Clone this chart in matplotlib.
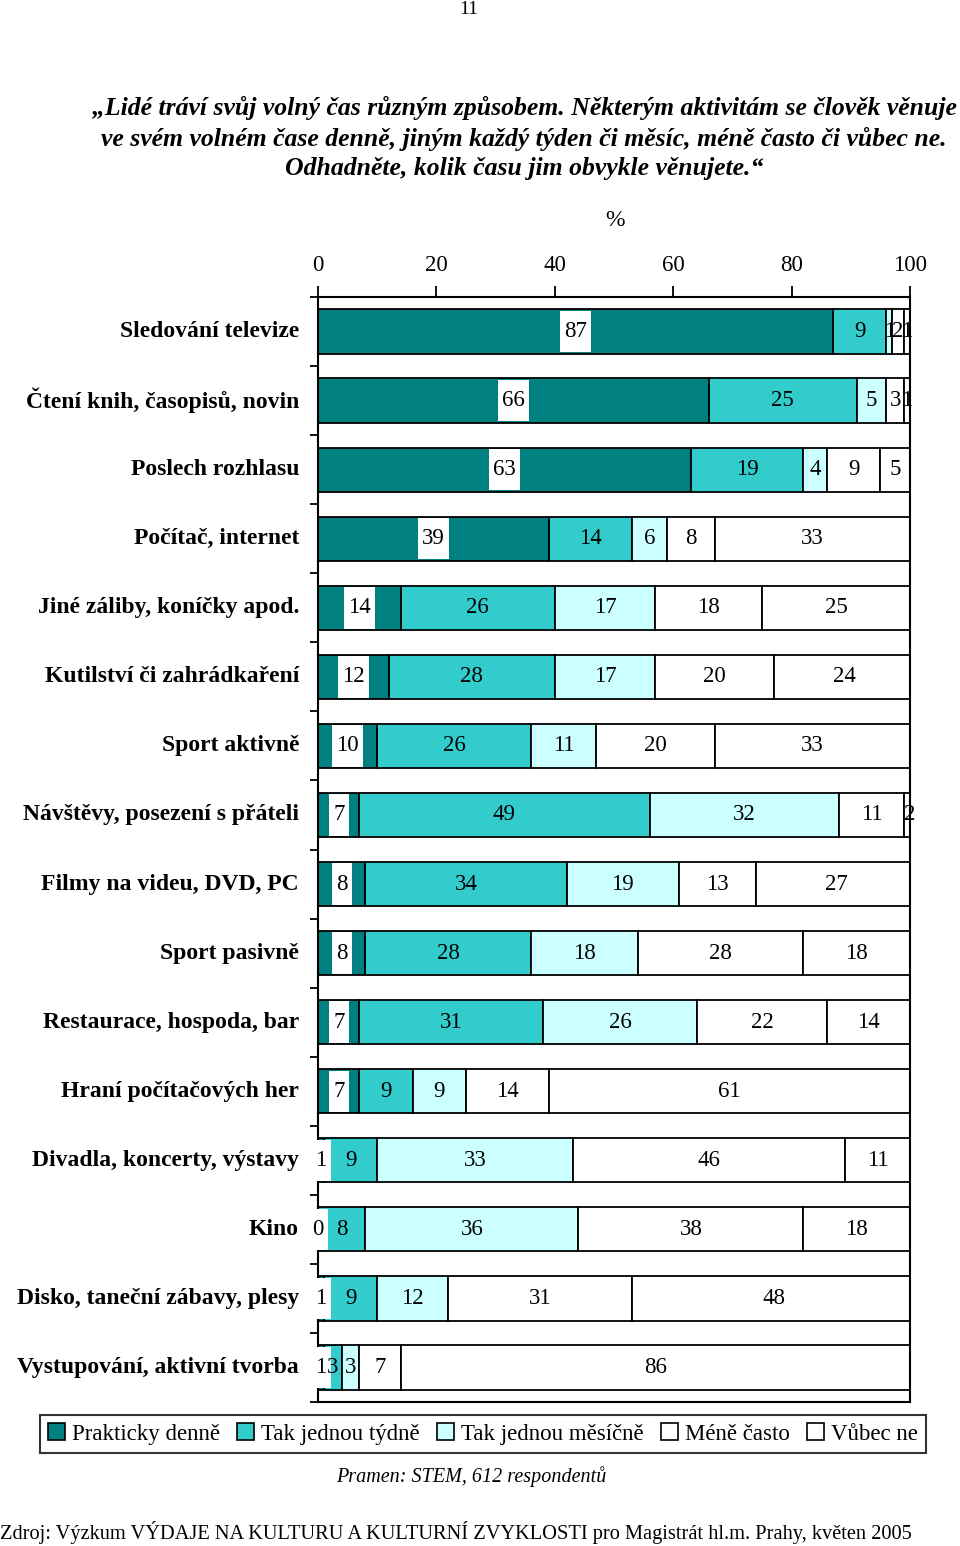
import numpy as np
import matplotlib.pyplot as plt
from matplotlib.patches import Patch

# Data (percent of respondents)
categories = [
    "Sledování televize",
    "Čtení knih, časopisů, novin",
    "Poslech rozhlasu",
    "Počítač, internet",
    "Jiné záliby, koníčky apod.",
    "Kutilství či zahrádkaření",
    "Sport aktivně",
    "Návštěvy, posezení s přáteli",
    "Filmy na videu, DVD, PC",
    "Sport pasivně",
    "Restaurace, hospoda, bar",
    "Hraní počítačových her",
    "Divadla, koncerty, výstavy",
    "Kino",
    "Disko, taneční zábavy, plesy",
    "Vystupování, aktivní tvorba",
]
denne = [87, 66, 63, 39, 14, 12, 10, 7, 8, 8, 7, 7, 1, 0, 1, 1]
tydne = [9, 25, 19, 14, 26, 28, 26, 49, 34, 28, 31, 9, 9, 8, 9, 3]
mesicne = [1, 5, 4, 6, 17, 17, 11, 32, 19, 18, 26, 9, 33, 36, 12, 3]
mene = [2, 3, 9, 8, 18, 20, 20, 11, 13, 28, 22, 14, 46, 38, 31, 7]
vubec = [1, 1, 5, 33, 25, 24, 33, 2, 27, 18, 14, 61, 11, 18, 48, 86]

series = [denne, tydne, mesicne, mene, vubec]
series_names = ["Prakticky denně", "Tak jednou týdně", "Tak jednou měsíčně",
                "Méně často", "Vůbec ne"]
colors = ["#008080", "#33CCCC", "#CCFFFF", "#FFFFFF", "#FFFFFF"]

plt.rcParams["font.family"] = ["Liberation Serif", "DejaVu Serif"]

fig = plt.figure(figsize=(9.6, 15.46), dpi=100)
ax = fig.add_axes([318 / 960, 144 / 1546, 592 / 960, 1105 / 1546])

bar_h = 0.64
y = np.arange(len(categories))
left = np.zeros(len(categories))
for i, vals in enumerate(series):
    vals = np.array(vals, dtype=float)
    ax.barh(y, vals, left=left, height=bar_h, color=colors[i],
            edgecolor="black", linewidth=1.3, zorder=2)
    for yy, l, v in zip(y, left, vals):
        lbl = f"{int(v)}"
        cx = l + v / 2
        if i == 0:
            # white label box over the dark segment, about as tall as the bar
            w = (len(lbl) * 11 + 9) / 5.92
            ax.barh(yy, w, left=cx - w / 2, height=bar_h - 0.04,
                    color="white", linewidth=0, zorder=3, clip_on=False)
        ax.text(cx, yy, lbl, ha="center", va="center", fontsize=16.5, zorder=4)
    left += vals

ax.set_xlim(0, 100)
ax.set_ylim(len(categories) - 0.5, -0.5)

ax.xaxis.tick_top()
ax.set_xticks(np.arange(0, 101, 20))
ax.tick_params(axis="x", direction="out", length=8, width=1.3, labelsize=16.5, pad=7)
ax.set_yticks(np.arange(-0.5, len(categories), 1.0))
ax.set_yticklabels([])
ax.tick_params(axis="y", direction="out", length=6, width=1.3)
for s in ax.spines.values():
    s.set_linewidth(1.5)

# category labels sit between the boundary ticks
for yy, name in zip(y, categories):
    ax.text(-0.032, yy, name, transform=ax.get_yaxis_transform(),
            ha="right", va="center", fontsize=17, fontweight="bold")

fig.text(615 / 960, 1 - 221 / 1546, "%", ha="center", va="center", fontsize=17)

title = ("„Lidé tráví svůj volný čas různým způsobem. Některým aktivitám se člověk věnuje\n"
         "ve svém volném čase denně, jiným každý týden či měsíc, méně často či vůbec ne.\n"
         "Odhadněte, kolik času jim obvykle věnujete.“")
fig.text(524 / 960, 1 - 138 / 1546, title, ha="center", va="center",
         fontsize=18.5, fontweight="bold", fontstyle="italic", linespacing=1.33)

fig.text(469 / 960, 1 - 10 / 1546, "11", ha="center", va="center", fontsize=14)

handles = [Patch(facecolor=c, edgecolor="black", linewidth=1.2) for c in colors]
leg = fig.legend(handles, series_names, loc="center",
                 bbox_to_anchor=(483 / 960, 1 - 1434 / 1546), ncol=5,
                 fontsize=16.5, frameon=True, fancybox=False, edgecolor="black",
                 handlelength=0.75, handleheight=0.75, handletextpad=0.3,
                 columnspacing=0.75, borderpad=0.35, borderaxespad=0)
leg.get_frame().set_linewidth(1.5)

fig.text(471 / 960, 1 - 1477 / 1546, "Pramen: STEM, 612 respondentů",
         ha="center", va="center", fontsize=14.5, fontstyle="italic")
fig.text(0, 1 - 1533 / 1546,
         "Zdroj: Výzkum VÝDAJE NA KULTURU A KULTURNÍ ZVYKLOSTI pro Magistrát hl.m. Prahy, květen 2005",
         ha="left", va="center", fontsize=14.7)

fig.savefig("out.png", dpi=100)
